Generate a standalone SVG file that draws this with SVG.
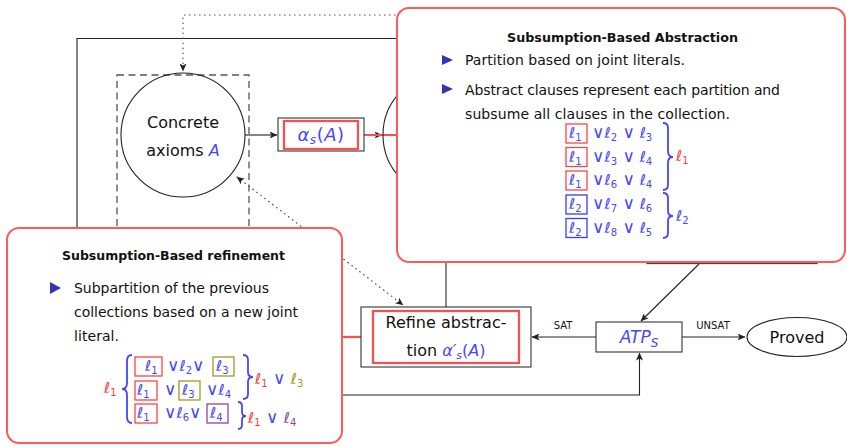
<svg xmlns="http://www.w3.org/2000/svg" width="847" height="447" viewBox="0 0 847 447">
<style>
.t{font-family:"DejaVu Sans","Liberation Sans",sans-serif;fill:#111}
.m{font-family:"DejaVu Sans","Liberation Sans",sans-serif}
.v{font-size:17px}
.s{font-size:10px}
.bl{fill:#4646ff}.rd{fill:#ff3b3b}.ol{fill:#9e9a22}.pu{fill:#9b3f9b}
.ln{fill:none;stroke:#222;stroke-width:1.1}
.dot{fill:none;stroke:#444;stroke-width:1.2;stroke-dasharray:0.5 4.5;stroke-linecap:round}
.call{fill:#fff;stroke:#ff5a5a;stroke-width:2}
.rl{stroke:#ff4d4d;stroke-width:2.2;fill:none}
.rb{fill:none;stroke:#ff4444;stroke-width:1.3}
.bb{fill:none;stroke:#3a3aff;stroke-width:1.3}
.ob{fill:none;stroke:#9e9a22;stroke-width:1.3}
.pb{fill:none;stroke:#9b3f9b;stroke-width:1.3}
.br{fill:none;stroke:#4646ff;stroke-width:1.8}
.bul{fill:#3333b3}
</style>
<defs>
<marker id="ar" viewBox="0 0 8 7" refX="7.5" refY="3.5" markerWidth="8" markerHeight="7" markerUnits="userSpaceOnUse" orient="auto-start-reverse">
<path d="M0,0 L8,3.5 L0,7 L2,3.5 z" fill="#222"/>
</marker>
</defs>

<g id="connectors">
<path class="ln" d="M520,38.5 L77,38.5 L77,395 L639.5,395 L639.5,353" marker-end="url(#ar)"/>
<path class="dot" d="M430,15 L183,15 L183,71" marker-end="url(#ar)"/>
<path class="dot" d="M237,177 L403,305" marker-start="url(#ar)" marker-end="url(#ar)"/>
<path class="ln" d="M245,135 L277,135" marker-end="url(#ar)"/>
<path class="ln" d="M364,135 L382,135" marker-end="url(#ar)"/>
<path d="M446,197 L446,307" stroke="#555" stroke-width="1.4"/>
<path class="ln" d="M699,264 L641,321" marker-end="url(#ar)"/>
<path class="ln" d="M596,337 L532,337" marker-end="url(#ar)"/>
<path class="ln" d="M682,337 L745,337" marker-end="url(#ar)"/>
<text class="t" x="563" y="329" font-size="10" text-anchor="middle" fill="#333">SAT</text>
<text class="t" x="713" y="329" font-size="10" text-anchor="middle" fill="#333">UNSAT</text>
<path class="rl" d="M358,135 L398,135"/>
<path class="rl" d="M341,337 L373,337"/>
</g>

<g id="concrete">
<rect x="117" y="75" width="132" height="300" fill="none" stroke="#555" stroke-width="1.3" stroke-dasharray="7 4.5"/>
<circle cx="183" cy="135" r="62" fill="none" stroke="#222" stroke-width="1.1"/>
<text class="t" x="183" y="128" font-size="16" text-anchor="middle">Concrete</text>
<text class="t" x="183" y="156" font-size="16" text-anchor="middle">axioms <tspan class="bl" font-style="italic">A</tspan></text>
</g>

<g id="alpha">
<rect x="278" y="118" width="86" height="33" fill="#fff" stroke="#333" stroke-width="1.1"/>
<rect x="284" y="121" width="74" height="28" fill="none" stroke="#ff4d4d" stroke-width="2.2"/>
<text class="t bl" x="321" y="141" font-size="18" text-anchor="middle" font-style="italic" letter-spacing="0.5">α<tspan font-size="12" dy="3">s</tspan><tspan dy="-3" font-style="normal">(</tspan>A<tspan font-style="normal">)</tspan></text>
</g>

<g id="abstract">
<circle cx="445" cy="135" r="62" fill="none" stroke="#222" stroke-width="1.1"/>
</g>

<g id="atpbox-hidden">
<rect x="647" y="215" width="170" height="48.5" fill="none" stroke="#444" stroke-width="1.3"/>
</g>

<g id="refine">
<rect x="361" y="307" width="170" height="60" fill="#fff" stroke="#333" stroke-width="1.1"/>
<rect x="373" y="311" width="146" height="52" fill="none" stroke="#ff4d4d" stroke-width="2.2"/>
<text class="t" x="446" y="328" font-size="16" text-anchor="middle">Refine abstrac-</text>
<text class="t" x="446" y="356" font-size="16" text-anchor="middle">tion <tspan class="bl" font-style="italic">α′<tspan font-size="11" dy="3">s</tspan><tspan dy="-3" font-style="normal">(</tspan>A<tspan font-style="normal">)</tspan></tspan></text>
</g>

<g id="atp">
<rect x="596" y="322" width="86" height="30" fill="#fff" stroke="#333" stroke-width="1.1"/>
<text class="t bl" x="639" y="343" font-size="17" text-anchor="middle" font-style="italic">ATP<tspan font-size="12" dy="4">S</tspan></text>
</g>

<g id="proved">
<ellipse cx="797" cy="337" rx="50" ry="19.5" fill="#fff" stroke="#222" stroke-width="1.1"/>
<text class="t" x="797" y="343" font-size="16" text-anchor="middle">Proved</text>
</g>

<g id="abstraction-callout">
<rect class="call" x="397" y="8" width="448" height="254" rx="12"/>
<text class="t" x="507" y="42" font-size="13" font-weight="bold" textLength="231" lengthAdjust="spacingAndGlyphs">Subsumption-Based Abstraction</text>
<path class="bul" d="M442,55 L453,60 L442,65 z"/>
<text class="t" x="465" y="65" font-size="14" textLength="220">Partition based on joint literals.</text>
<path class="bul" d="M442,84 L453,89 L442,94 z"/>
<text class="t" x="465" y="95" font-size="14" textLength="315">Abstract clauses represent each partition and</text>
<text class="t" x="465" y="119" font-size="14" textLength="265">subsume all clauses in the collection.</text>
<g class="m" font-size="15">
<rect class="rb" x="566" y="124" width="21" height="19"/>
<rect class="rb" x="566" y="147.5" width="21" height="19"/>
<rect class="rb" x="566" y="171" width="21" height="19"/>
<rect class="bb" x="566" y="195" width="21" height="19"/>
<rect class="bb" x="566" y="218.5" width="21" height="19"/>
<text class="bl" x="569" y="138">ℓ<tspan class="s" dy="3">1</tspan></text>
<text class="bl" x="569" y="161.5">ℓ<tspan class="s" dy="3">1</tspan></text>
<text class="bl" x="569" y="185">ℓ<tspan class="s" dy="3">1</tspan></text>
<text class="bl" x="569" y="209">ℓ<tspan class="s" dy="3">2</tspan></text>
<text class="bl" x="569" y="232.5">ℓ<tspan class="s" dy="3">2</tspan></text>
<text class="bl" x="592" y="138"><tspan class="v">∨</tspan>ℓ<tspan class="s" dy="3">2</tspan><tspan dy="-3" class="v"> ∨</tspan> ℓ<tspan class="s" dy="3">3</tspan></text>
<text class="bl" x="592" y="161.5"><tspan class="v">∨</tspan>ℓ<tspan class="s" dy="3">3</tspan><tspan dy="-3" class="v"> ∨</tspan> ℓ<tspan class="s" dy="3">4</tspan></text>
<text class="bl" x="592" y="185"><tspan class="v">∨</tspan>ℓ<tspan class="s" dy="3">6</tspan><tspan dy="-3" class="v"> ∨</tspan> ℓ<tspan class="s" dy="3">4</tspan></text>
<text class="bl" x="592" y="209"><tspan class="v">∨</tspan>ℓ<tspan class="s" dy="3">7</tspan><tspan dy="-3" class="v"> ∨</tspan> ℓ<tspan class="s" dy="3">6</tspan></text>
<text class="bl" x="592" y="232.5"><tspan class="v">∨</tspan>ℓ<tspan class="s" dy="3">8</tspan><tspan dy="-3" class="v"> ∨</tspan> ℓ<tspan class="s" dy="3">5</tspan></text>
<path class="br" d="M663,123 Q668,123 668,128 L668,151 Q668,157 673,157 Q668,157 668,163 L668,185 Q668,190 663,190"/>
<path class="br" d="M663,193 Q668,193 668,198 L668,211 Q668,216 673,216 Q668,216 668,221 L668,233 Q668,238 663,238"/>
<text class="rd" x="676" y="161">ℓ<tspan class="s" dy="3">1</tspan></text>
<text class="bl" x="676" y="221">ℓ<tspan class="s" dy="3">2</tspan></text>
</g>
</g>

<g id="refinement-callout">
<rect class="call" x="7" y="228" width="335" height="215" rx="12"/>
<text class="t" x="62" y="260" font-size="13" font-weight="bold" textLength="223" lengthAdjust="spacingAndGlyphs">Subsumption-Based refinement</text>
<path class="bul" d="M50,282 L61,288 L50,294 z"/>
<text class="t" x="74" y="293" font-size="14" textLength="195">Subpartition of the previous</text>
<text class="t" x="74" y="317" font-size="14" textLength="224">collections based on a new joint</text>
<text class="t" x="74" y="341" font-size="14" textLength="45">literal.</text>
<g class="m" font-size="15">
<rect class="rb" x="135" y="357" width="27" height="19"/>
<rect class="ob" x="213" y="357" width="21" height="19"/>
<rect class="rb" x="135" y="381" width="22" height="19"/>
<rect class="ob" x="179" y="381" width="21" height="19"/>
<rect class="rb" x="135" y="404" width="22" height="19"/>
<rect class="pb" x="207" y="404" width="21" height="19"/>
<text class="bl" x="145" y="371">ℓ<tspan class="s" dy="3">1</tspan></text>
<text class="bl" x="167" y="371"><tspan class="v">∨</tspan>ℓ<tspan class="s" dy="3">2</tspan><tspan dy="-3" class="v">∨</tspan></text>
<text class="bl" x="216" y="371">ℓ<tspan class="s" dy="3">3</tspan></text>
<text class="bl" x="137" y="395">ℓ<tspan class="s" dy="3">1</tspan></text>
<text class="bl" x="164" y="395"><tspan class="v">∨</tspan></text>
<text class="bl" x="182" y="395">ℓ<tspan class="s" dy="3">3</tspan></text>
<text class="bl" x="206" y="395"><tspan class="v">∨</tspan>ℓ<tspan class="s" dy="3">4</tspan></text>
<text class="bl" x="137" y="418">ℓ<tspan class="s" dy="3">1</tspan></text>
<text class="bl" x="164" y="418"><tspan class="v">∨</tspan>ℓ<tspan class="s" dy="3">6</tspan><tspan dy="-3" class="v">∨</tspan></text>
<text class="bl" x="210" y="418">ℓ<tspan class="s" dy="3">4</tspan></text>
<path class="br" d="M132,355 Q127,355 127,361 L127,383 Q127,389 122,389 Q127,389 127,395 L127,417 Q127,423 132,423"/>
<path class="br" d="M243,355 Q248,355 248,360 L248,372 Q248,377 253,377 Q248,377 248,382 L248,394 Q248,399 243,399"/>
<path class="br" d="M238,402 Q242,402 242,406 L242,412 Q242,416 246,416 Q242,416 242,420 L242,425 Q242,429 238,429"/>
<text class="rd" x="104" y="393">ℓ<tspan class="s" dy="3">1</tspan></text>
<text x="255" y="384"><tspan class="rd">ℓ</tspan><tspan class="rd s" dy="3">1</tspan><tspan class="bl v" dy="-3"> ∨ </tspan><tspan class="ol">ℓ</tspan><tspan class="ol s" dy="3">3</tspan></text>
<text x="248" y="423"><tspan class="rd">ℓ</tspan><tspan class="rd s" dy="3">1</tspan><tspan class="bl v" dy="-3"> ∨ </tspan><tspan class="pu">ℓ</tspan><tspan class="pu s" dy="3">4</tspan></text>
</g>
</g>
</svg>
